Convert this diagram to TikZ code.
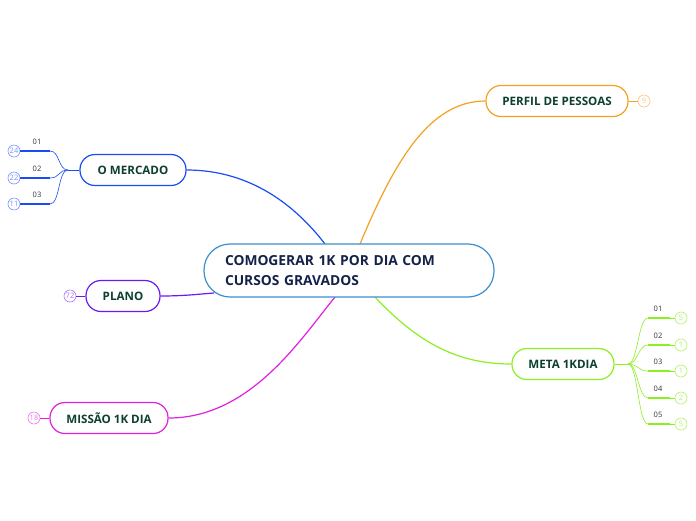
\documentclass[tikz,border=0pt]{standalone}
\usepackage{fontspec}
\setmainfont{Open Sans}
\definecolor{cblue}{HTML}{1A4CF5}
\definecolor{cpurple}{HTML}{6A1AF0}
\definecolor{cmag}{HTML}{E020E0}
\definecolor{corange}{HTML}{F5A020}
\definecolor{clime}{HTML}{8CF020}
\definecolor{croot}{HTML}{3A8FD0}
\definecolor{ctitle}{HTML}{14224A}
\definecolor{cbranch}{HTML}{0D4030}
\definecolor{clabel}{HTML}{333333}
\tikzset{
  rootbox/.style={draw=croot,line width=1.2pt,fill=white,rounded corners=26pt,minimum width=290pt,minimum height=53pt,align=left,text width=248pt,inner xsep=21pt},
  branch/.style={draw=#1,line width=1.2pt,fill=white,rounded corners=15pt,minimum height=31pt,inner xsep=10pt,font=\bfseries\fontsize{11.6pt}{13pt}\selectfont,text=cbranch},
  conn/.style={draw=#1,line width=1.2pt},
  thin/.style={draw=#1,line width=0.6pt},
  bar/.style={draw=#1,line width=2pt},
  cnt/.style={draw=#1,line width=0.6pt,circle,fill=white,minimum size=12pt,inner sep=0pt,text=#1,font=\fontsize{7.5pt}{8pt}\selectfont},
  lbl/.style={font=\fontsize{7.5pt}{9pt}\selectfont,text=clabel,inner sep=0pt}
}
\begin{document}
\begin{tikzpicture}[x=1pt,y=-1pt]
\useasboundingbox (0,0) rectangle (696,520);
\fill[white] (0,0) rectangle (696,520);
% branch nodes
\node[branch=cblue,minimum width=106pt] (merc) at (133,170) {O MERCADO};
\node[branch=cpurple,minimum width=74pt] (plano) at (123,296) {PLANO};
\node[branch=cmag,minimum width=118pt] (miss) at (109,418) {MISSÃO 1K DIA};
\node[branch=corange,minimum width=142pt] (perf) at (557,101) {PERFIL DE PESSOAS};
\node[branch=clime,minimum width=102pt] (meta) at (563,364) {META 1KDIA};
\coordinate (rc) at (349,270.5);
% connectors
\draw[conn=cblue] (merc.east) .. controls (250,170) and (295,205) .. (325,244);
\draw[conn=corange] (360,244) .. controls (395,160) and (430,101) .. (perf.west);
\draw[conn=cpurple] (plano.east) .. controls (185,296) and (200,294) .. (214,293);
\draw[conn=cmag] (miss.east) .. controls (250,418) and (300,340) .. (335,297);
\draw[conn=clime] (375,297) .. controls (420,345) and (460,364) .. (meta.west);
\node[rootbox,font=\bfseries\fontsize{13.8pt}{20pt}\selectfont,text=ctitle] (root) at (rc) {COMOGERAR 1K POR DIA COM\\CURSOS GRAVADOS};
% O MERCADO children
\coordinate (mj) at (68,170);
\draw[thin=cblue] (merc.west) -- (mj);
\foreach \i/\y/\n/\t in {1/151/24/01,2/178/22/02,3/204/11/03}{
  \node[cnt=cblue!60] (mc\i) at (14,\y) {\n};
  \coordinate (mb\i) at (50,\y);
  \draw[thin=cblue] (mj) .. controls (58,170) and (60,\y) .. (mb\i);
  \draw[bar=cblue] (mb\i) -- (mc\i.east);
  \node[lbl] (ml\i) at (37,\y-9) {\t};
}
\node[cnt=cpurple!60] (pc) at (70,296) {72};
\draw[thin=cpurple] (pc) -- (plano.west);
\node[cnt=cmag!60] (mc) at (34,418) {18};
\draw[thin=cmag] (mc) -- (miss.west);
\node[cnt=corange!60] (oc) at (644,101) {9};
\draw[thin=corange] (perf.east) -- (oc);
% META children
\coordinate (tj) at (628,364);
\draw[thin=clime] (meta.east) -- (tj);
\foreach \i/\y/\n in {1/318/5,2/345/1,3/371/1,4/398/2,5/424/5}{
  \node[cnt=clime!70] (tc\i) at (681,\y) {\n};
  \coordinate (tb\i) at (648,\y);
  \coordinate (te\i) at (670,\y);
  \draw[thin=clime] (tj) .. controls (638,364) and (638,\y) .. (tb\i);
  \draw[bar=clime] (tb\i) -- (te\i);
  \draw[thin=clime] (te\i) -- (tc\i);
  \node[lbl] (tl\i) at (658,\y-9) {0\i};
}
\end{tikzpicture}
\end{document}
